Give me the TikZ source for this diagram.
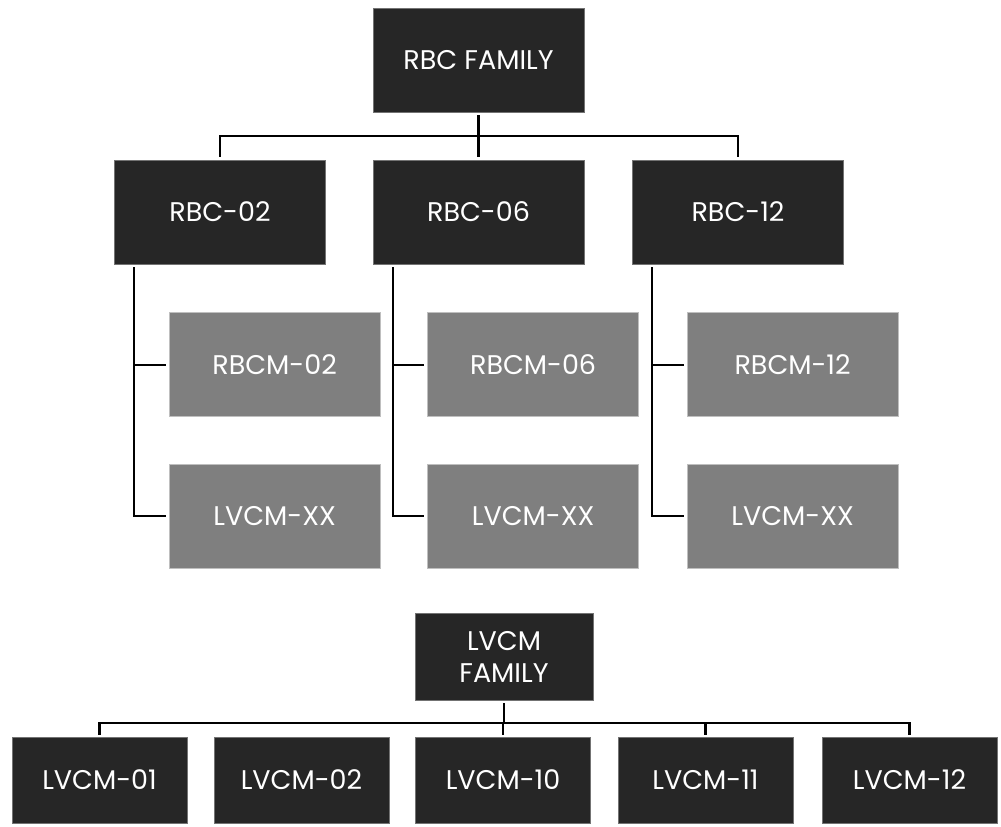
\documentclass[tikz,border=0pt]{standalone}
\usepackage{fontspec}
\setmainfont{Poppins}
\usetikzlibrary{positioning,calc}

\definecolor{boxdark}{HTML}{262626}
\definecolor{boxgray}{HTML}{7F7F7F}

\begin{document}
\begin{tikzpicture}[
    x=1pt, y=-1pt,
    font=\fontsize{27}{32}\selectfont,
    darkbox/.style={draw=black!55, line width=0.6pt, fill=boxdark, text=white, align=center, minimum width=211pt, minimum height=104pt},
    graybox/.style={draw=black!25, line width=0.6pt, fill=boxgray, text=white, align=center, minimum width=211pt, minimum height=104pt},
    lvbox/.style={darkbox, minimum width=175pt, minimum height=86pt},
    link/.style={line width=2.2pt}
]
\useasboundingbox (0,0) rectangle (1001,827);

% ===== RBC family =====
\node[darkbox] (rbcfam) at (478.5,60) {RBC FAMILY};
\node[darkbox] (rbc02) at (220,212) {RBC-02};
\node[darkbox] (rbc06) at (478.5,212) {RBC-06};
\node[darkbox] (rbc12) at (738,212) {RBC-12};

% ===== Modules under each RBC =====
\foreach \n in {02,06,12} {
    \node[graybox, below right=48pt and -157pt of rbc\n] (rbcm\n) {RBCM-\n};
    \node[graybox, below=47pt of rbcm\n] (lvx\n) {LVCM-XX};
    \coordinate (trunk\n) at ([xshift=20pt,yshift=-3pt]rbc\n.south west);
    \draw[link] (trunk\n) |- ([xshift=-3pt]lvx\n.west);
    \draw[link] (trunk\n |- rbcm\n.west) -- ([xshift=-3pt]rbcm\n.west);
}

% ===== RBC bus =====
\coordinate (rbcbus) at (478.5,136);
\draw[link] ([yshift=-3pt]rbcfam.south) -- (rbcbus);
\draw[link] ([yshift=3pt]rbc02.north) |- (rbcbus) -| ([yshift=3pt]rbc12.north);
\draw[link] (rbcbus) -- ([yshift=3pt]rbc06.north);

% ===== LVCM family =====
\node[darkbox, minimum width=178pt, minimum height=87pt] (lvcmfam) at (504,656.5) {LVCM\\FAMILY};
\node[lvbox] (lv01) at (99.5,780) {LVCM-01};
\node[lvbox] (lv02) at (301.5,780) {LVCM-02};
\node[lvbox] (lv10) at (503,780) {LVCM-10};
\node[lvbox] (lv11) at (705.5,780) {LVCM-11};
\node[lvbox] (lv12) at (909.5,780) {LVCM-12};

% ===== LVCM bus =====
\coordinate (lvbus) at (504,723);
\draw[link] ([yshift=-3pt]lvcmfam.south) -- (lvbus);
\draw[link] ([yshift=2pt]lv01.north) |- (lvbus) -| ([yshift=2pt]lv12.north);
\draw[link] ([yshift=2pt]lv10.north) -- (lv10.north |- lvbus);
\draw[link] ([yshift=2pt]lv11.north) -- (lv11.north |- lvbus);

\end{tikzpicture}
\end{document}
